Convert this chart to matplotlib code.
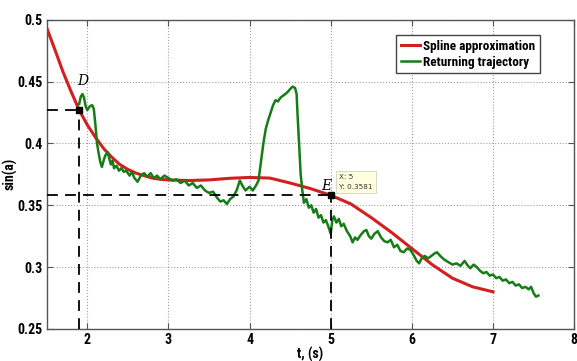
import matplotlib.pyplot as plt
from matplotlib import font_manager

# spline approximation of sin(a) over time
spline_t = [1.50, 1.60, 1.70, 1.80, 1.90, 2.00, 2.10, 2.20, 2.30, 2.40, 2.50,
            2.60, 2.70, 2.80, 2.90, 3.00, 3.25, 3.50, 3.75, 4.00, 4.25, 4.50,
            4.75, 5.00, 5.25, 5.50, 5.75, 6.00, 6.25, 6.50, 6.75, 7.00]
spline_v = [0.4935, 0.476, 0.458, 0.442, 0.427, 0.415, 0.405, 0.396, 0.389,
            0.383, 0.379, 0.376, 0.374, 0.372, 0.371, 0.3705, 0.370, 0.3705,
            0.3718, 0.3725, 0.372, 0.368, 0.3635, 0.3581, 0.351, 0.340, 0.328,
            0.315, 0.302, 0.291, 0.284, 0.280]

# measured returning trajectory
traj_t = [1.90, 1.92, 1.94, 1.96, 1.98, 2.00, 2.03, 2.06, 2.08, 2.10, 2.12,
          2.14, 2.16, 2.18, 2.20, 2.22, 2.25, 2.27, 2.29, 2.31, 2.33, 2.36,
          2.39, 2.42, 2.45, 2.48, 2.52, 2.55, 2.58, 2.62, 2.66, 2.70, 2.74,
          2.78, 2.82, 2.86, 2.90, 2.95, 3.00, 3.05, 3.10, 3.15, 3.20, 3.25,
          3.30, 3.35, 3.40, 3.45, 3.50, 3.55, 3.60, 3.64, 3.68, 3.72, 3.76,
          3.80, 3.84, 3.88, 3.91, 3.95, 4.00, 4.04, 4.08, 4.11, 4.14, 4.17,
          4.20, 4.23, 4.26, 4.29, 4.32, 4.35, 4.38, 4.42, 4.46, 4.50, 4.53,
          4.56, 4.58, 4.59, 4.61, 4.63, 4.65, 4.67, 4.70, 4.73, 4.76, 4.79,
          4.82, 4.85, 4.88, 4.91, 4.94, 4.97, 5.00, 5.02, 5.04, 5.07, 5.10,
          5.13, 5.16, 5.20, 5.24, 5.27, 5.30, 5.33, 5.37, 5.41, 5.44, 5.47,
          5.50, 5.54, 5.58, 5.62, 5.66, 5.70, 5.74, 5.78, 5.82, 5.86, 5.90,
          5.94, 5.98, 6.02, 6.06, 6.09, 6.12, 6.16, 6.20, 6.24, 6.28, 6.31,
          6.35, 6.40, 6.45, 6.50, 6.55, 6.60, 6.65, 6.68, 6.72, 6.76, 6.80,
          6.84, 6.88, 6.92, 6.96, 7.00, 7.04, 7.08, 7.12, 7.16, 7.20, 7.24,
          7.28, 7.32, 7.36, 7.40, 7.44, 7.47, 7.50, 7.53, 7.56]
traj_v = [0.432, 0.438, 0.440, 0.437, 0.430, 0.427, 0.430, 0.431, 0.428,
          0.415, 0.400, 0.392, 0.385, 0.381, 0.386, 0.390, 0.393, 0.388,
          0.383, 0.386, 0.380, 0.382, 0.378, 0.380, 0.377, 0.378, 0.374,
          0.377, 0.372, 0.369, 0.374, 0.376, 0.373, 0.376, 0.372, 0.374,
          0.371, 0.374, 0.372, 0.370, 0.371, 0.368, 0.370, 0.366, 0.368,
          0.364, 0.366, 0.362, 0.360, 0.361, 0.356, 0.353, 0.354, 0.351,
          0.355, 0.357, 0.362, 0.370, 0.366, 0.362, 0.365, 0.362, 0.366,
          0.370, 0.385, 0.400, 0.412, 0.419, 0.425, 0.431, 0.435, 0.434,
          0.437, 0.439, 0.441, 0.444, 0.446, 0.445, 0.440, 0.425, 0.400,
          0.375, 0.362, 0.352, 0.355, 0.348, 0.350, 0.344, 0.347, 0.340,
          0.342, 0.336, 0.338, 0.333, 0.327, 0.338, 0.341, 0.336, 0.339,
          0.333, 0.335, 0.329, 0.325, 0.320, 0.324, 0.322, 0.326, 0.329,
          0.330, 0.325, 0.323, 0.327, 0.329, 0.324, 0.321, 0.320, 0.322,
          0.316, 0.318, 0.313, 0.312, 0.315, 0.314, 0.310, 0.305, 0.303,
          0.307, 0.309, 0.307, 0.309, 0.311, 0.312, 0.309, 0.306, 0.304,
          0.302, 0.303, 0.301, 0.305, 0.302, 0.299, 0.302, 0.300, 0.297,
          0.295, 0.296, 0.293, 0.294, 0.291, 0.292, 0.289, 0.290, 0.287,
          0.288, 0.285, 0.286, 0.283, 0.284, 0.282, 0.284, 0.279, 0.276,
          0.277]

# marked points D and E
point_d = (1.9, 0.427)
point_e = (5.0, 0.3581)

x_ticks = [2, 3, 4, 5, 6, 7, 8]
y_ticks = [0.25, 0.3, 0.35, 0.4, 0.45, 0.5]

# prefer a narrow sans face for the labels
names = {f.name for f in font_manager.fontManager.ttflist}
narrow = ['Liberation Sans Narrow', 'Arial Narrow', 'Roboto Condensed',
          'Archivo Narrow', 'PT Sans Narrow', 'Fira Sans Condensed',
          'IBM Plex Sans Condensed', 'Open Sans Condensed']
font = next((n for n in narrow if n in names), None)
if font is None:
    font, fs, leg_fs = 'Liberation Sans', 8.5, 8
else:
    fs, leg_fs = 10, 9.5
plt.rcParams['font.family'] = [font, 'DejaVu Sans']

fig = plt.figure(figsize=(5.77, 3.61), dpi=100)
ax = fig.add_axes([0.081, 0.089, 0.914, 0.856])

ax.plot(spline_t, spline_v, color='#d21f1f', lw=2.2, label='Spline approximation', zorder=3)
ax.plot(traj_t, traj_v, color='#167c16', lw=1.8, label='Returning trajectory', zorder=4)

# dashed guide lines to the axes
for px, py in (point_d, point_e):
    ax.plot([1.5, px], [py, py], ls=(0, (6, 4)), color='black', lw=1.3, zorder=5)
    ax.plot([px, px], [0.25, py], ls=(0, (6, 4)), color='black', lw=1.3, zorder=5)
    ax.plot(px, py, 's', color='black', ms=4, zorder=6)

ax.text(point_d[0] - 0.02, 0.447, 'D', family='DejaVu Serif', style='italic',
        fontsize=10, zorder=7)
ax.text(point_e[0] - 0.12, 0.3625, 'E', family='DejaVu Serif', style='italic',
        fontsize=10, zorder=7)
# data tip at E
ax.text(point_e[0] + 0.1, 0.3625, f'X: {point_e[0]:g}\nY: {point_e[1]:.4f}',
        fontsize=5.2, family='DejaVu Sans', color='#333333', linespacing=1.7,
        va='bottom', zorder=7,
        bbox=dict(boxstyle='square,pad=0.45', fc='#ffffe0', ec='#c8c8b0', lw=0.5))

ax.set_xlim(1.5, 8)
ax.set_ylim(0.25, 0.5)
ax.set_xticks(x_ticks)
ax.set_yticks(y_ticks)
ax.set_xticklabels([str(t) for t in x_ticks])
ax.set_yticklabels(['0.25', '0.3', '0.35', '0.4', '0.45', '0.5'])
ax.grid(True, ls=':', color='#a0a0a0', lw=0.8)
ax.tick_params(direction='in', top=True, right=True, length=4, labelsize=fs,
               color='#555555', pad=3)
for lbl in ax.get_xticklabels() + ax.get_yticklabels():
    lbl.set_fontweight('bold')
for s in ax.spines.values():
    s.set_color('#555555')
    s.set_linewidth(1.0)

ax.set_xlabel('t, (s)', fontsize=fs, fontweight='bold', labelpad=0)
ax.set_ylabel('sin(a)', fontsize=fs, fontweight='bold')
ax.yaxis.set_label_coords(-0.055, 0.5)

leg = ax.legend(loc='upper right', bbox_to_anchor=(0.935, 0.95), borderaxespad=0,
                fontsize=leg_fs, handlelength=1.5, handletextpad=0.2, borderpad=0.35,
                labelspacing=0.2, fancybox=False, framealpha=1, edgecolor='#444444')
for t in leg.get_texts():
    t.set_fontweight('bold')

fig.savefig('out.png', dpi=100)
